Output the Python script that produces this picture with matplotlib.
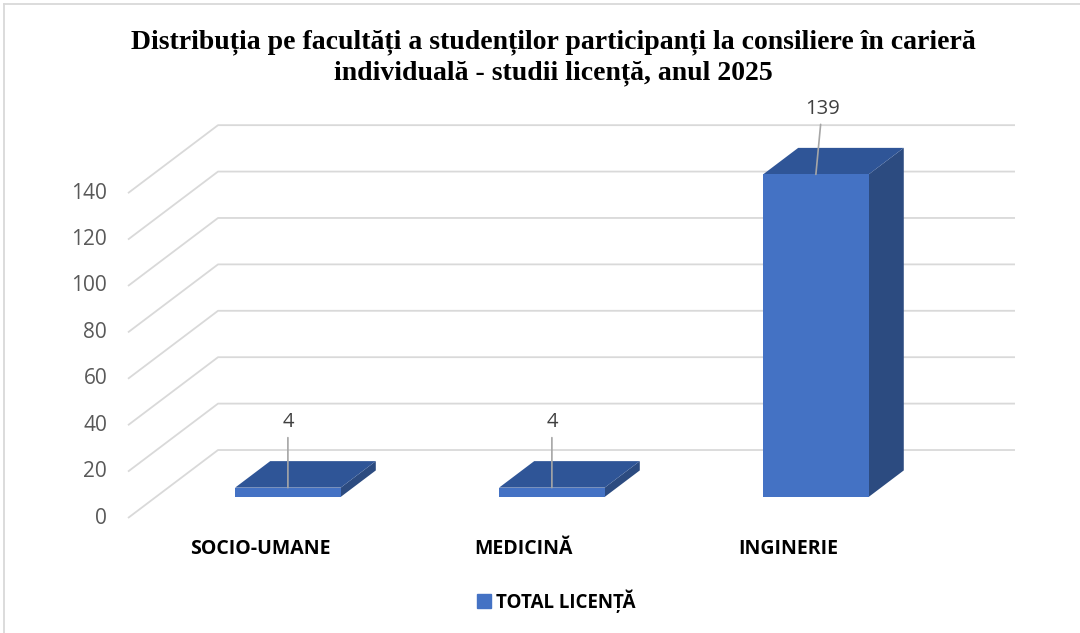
import numpy as np
import matplotlib.pyplot as plt
from matplotlib.patches import Polygon
from matplotlib.lines import Line2D

# data
categories = ['SOCIO-UMANE', 'MEDICINĂ', 'INGINERIE']
values = [4, 4, 139]
yticks = [0, 20, 40, 60, 80, 100, 120, 140]
series_name = 'TOTAL LICENȚĂ'
title = ('Distribuția pe facultăți a studenților participanți la consiliere în carieră\n'
         'individuală - studii licență, anul 2025')

# 3D-ish look (oblique projection): depth shift in data units
DX = 0.341
DY = 29.3
d0, d1 = 0.31, 0.70   # bar front / back depth (fraction of floor)
bw = 0.4
front_c = '#4472C4'
top_c = '#2F5597'
side_c = '#2C4B80'
grid_c = '#D9D9D9'

fig = plt.figure(figsize=(10.8, 6.33), dpi=100)
ax = fig.add_axes([128/1080, 115/633, 887/1080, 394/633])
xmax = 2.86
ax.set_xlim(-0.5, xmax)
ax.set_ylim(0, 140 + DY + 0.5)
ax.axis('off')

# grid: diagonal on the left wall + horizontal on back wall
for v in yticks:
    ax.plot([-0.5, -0.5 + DX, xmax], [v, v + DY, v + DY], color=grid_c, lw=1.3,
            solid_capstyle='butt', zorder=1, clip_on=False)
    ax.annotate(str(v), (-0.5, v), xytext=(-15, 0), textcoords='offset points',
                ha='right', va='center', fontsize=15, color='#595959',
                family='Open Sans', annotation_clip=False)


def proj(x, y, d):
    return (x + d * DX, y + d * DY)


for i, v in enumerate(values):
    xl, xr = i - bw / 2, i + bw / 2
    front = [proj(xl, 0, d0), proj(xr, 0, d0), proj(xr, v, d0), proj(xl, v, d0)]
    top = [proj(xl, v, d0), proj(xr, v, d0), proj(xr, v, d1), proj(xl, v, d1)]
    side = [proj(xr, 0, d0), proj(xr, 0, d1), proj(xr, v, d1), proj(xr, v, d0)]
    ax.add_patch(Polygon(side, closed=True, fc=side_c, ec='none', zorder=3))
    ax.add_patch(Polygon(top, closed=True, fc=top_c, ec='none', zorder=3))
    ax.add_patch(Polygon(front, closed=True, fc=front_c, ec='none', zorder=4))
    dx_lbl = 4.5 if v > 100 else 0
    ax.annotate(str(v), proj(i, v, d0), xytext=(dx_lbl, 40), textcoords='offset points',
                ha='center', va='bottom', fontsize=14.5, color='#404040',
                family='Open Sans', zorder=6,
                arrowprops=dict(arrowstyle='-', color='#A6A6A6', lw=1.2,
                                shrinkA=2, shrinkB=0))
    ax.annotate(categories[i], (i, 0), xytext=(0, -22), textcoords='offset points',
                ha='center', va='center', fontsize=14, fontweight='bold',
                color='black', family='Open Sans', annotation_clip=False)

fig.text(553 / 1080, 1 - 58 / 633, title, ha='center', va='center',
         fontsize=20, fontweight='bold', family='Liberation Serif',
         linespacing=1.3)

# legend
handle = Line2D([], [], marker='s', ls='none', color=front_c, markersize=10)
fig.legend([handle], [series_name], loc='center', bbox_to_anchor=(555 / 1080, 1 - 601 / 633),
           frameon=False, handletextpad=0.15, handlelength=1.0,
           prop={'family': 'Open Sans', 'weight': 'bold', 'size': 13.5})

# outer frame (top + left)
fig.add_artist(Line2D([4 / 1080, 4 / 1080], [0, 1 - 4 / 633], color=grid_c, lw=1.3))
fig.add_artist(Line2D([4 / 1080, 1], [1 - 4 / 633, 1 - 4 / 633], color=grid_c, lw=1.3))

fig.savefig('out.png', dpi=100)
